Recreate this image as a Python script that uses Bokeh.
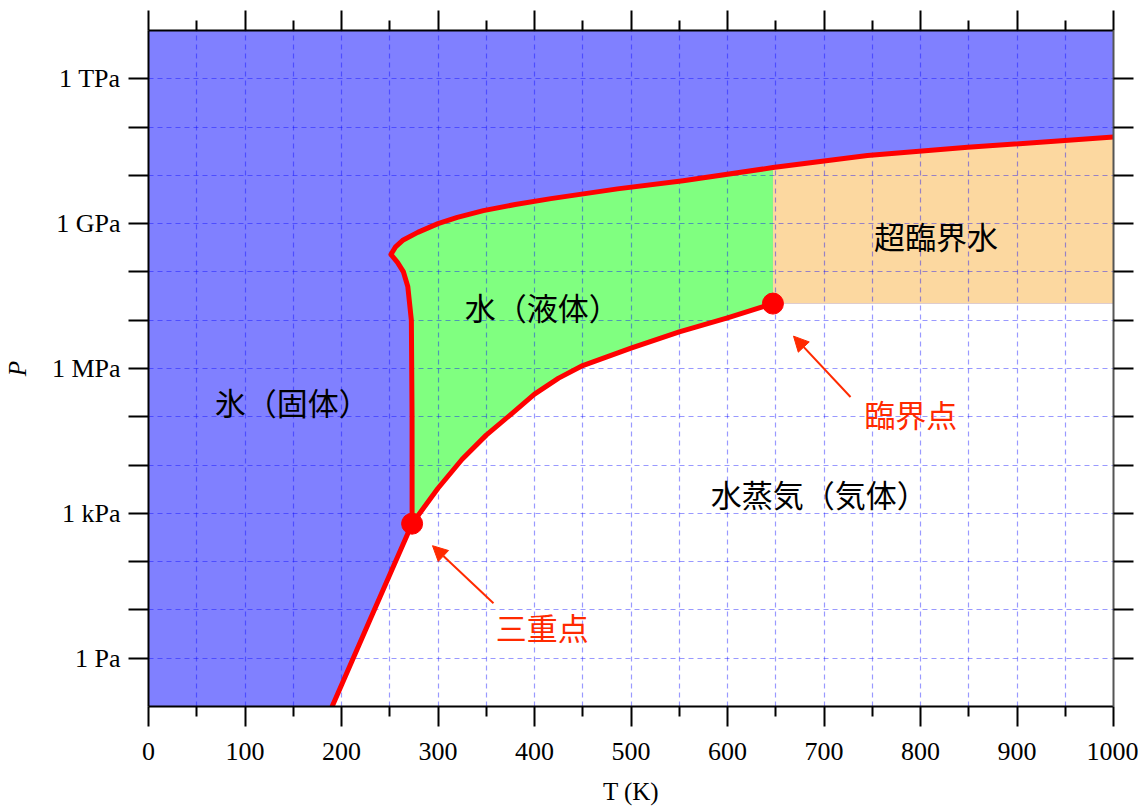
import numpy as np
from bokeh.plotting import figure
from bokeh.models import FixedTicker, LinearAxis, LogAxis, Arrow, NormalHead, Range1d
from bokeh.core.properties import value
from bokeh.embed import file_html
from bokeh.resources import INLINE

# ---------------- data (T in K, P in Pa) ----------------
x_limits = [0, 1000]
y_limits = [0.1, 1e13]

# solid-gas (sublimation) curve
sub_T = [190.3, 230.0, 273.16]
sub_P = [0.1, 6.6, 611.657]

# liquid-gas (vaporisation) curve, triple point -> critical point
vap_T = [273.16, 300, 325, 350, 375, 400, 425, 450, 475, 500, 550, 600, 647.1]
vap_P = [611.657, 3.31e3, 1.32e4, 4.17e4, 1.10e5, 2.95e5, 6.31e5, 1.15e6,
         1.74e6, 2.63e6, 5.75e6, 1.12e7, 2.21e7]

# solid-liquid (melting) curve, triple point -> 1000 K
melt_T = [273.16, 273.1, 272.4, 268.7, 264.2, 258.0, 251.2, 256, 264, 279, 300,
          320, 347, 380, 417, 486, 554, 647.1, 745, 849, 1000]
melt_P = [611.657, 1e5, 1e7, 5.0e7, 1.0e8, 1.58e8, 2.3e8, 3.3e8, 4.6e8, 6.6e8,
          1.0e9, 1.35e9, 1.86e9, 2.5e9, 3.3e9, 5.25e9, 7.76e9, 1.45e10, 2.57e10,
          3.8e10, 6.2e10]

triple_T, triple_P = 273.16, 611.657
crit_T, crit_P = 647.1, 2.21e7

region_labels = ["氷（固体）", "水（液体）", "超臨界水", "水蒸気（気体）"]
region_T = [149, 408, 816, 695]
region_P = [2.04e5, 1.95e7, 5.75e8, 2.57e3]

point_labels = ["三重点", "臨界点"]
point_label_T = [408, 790]
point_label_P = [4.6, 1.15e5]
arrow_start_T = [357.5, 727.5]
arrow_start_P = [13.7, 2.57e5]
arrow_end_T = [294.3, 668.4]
arrow_end_P = [214.0, 4.68e6]

x_major = [0, 100, 200, 300, 400, 500, 600, 700, 800, 900, 1000]
x_minor = [50, 150, 250, 350, 450, 550, 650, 750, 850, 950]
x_grid = sorted(x_major + x_minor)
y_ticks = [1, 1e1, 1e2, 1e3, 1e4, 1e5, 1e6, 1e7, 1e8, 1e9, 1e10, 1e11, 1e12]
y_tick_labels = ["1 Pa", "", "", "1 kPa", "", "", "1 MPa", "", "", "1 GPa", "", "", "1 TPa"]

# ---------------- colours ----------------
SOLID = "#8080FF"
LIQUID = "#80FF80"
SUPER = "#FCD8A0"
RED = "#FF0000"
NOTE = "#FF2A00"
SERIF = "Liberation Serif"
CJK = "Noto Sans CJK JP"

p = figure(x_range=Range1d(*x_limits), y_range=Range1d(*y_limits), y_axis_type="log",
           frame_width=965, frame_height=676,
           min_border_left=140, min_border_right=25, min_border_top=30, min_border_bottom=100,
           output_backend="svg", toolbar_location=None,
           background_fill_color=SOLID, border_fill_color="white")
p.outline_line_color = None

# ---------------- regions ----------------
gas_x = list(sub_T) + list(vap_T[1:]) + [x_limits[1], x_limits[1]]
gas_y = list(sub_P) + list(vap_P[1:]) + [crit_P, y_limits[0]]
p.patch(gas_x, gas_y, fill_color="white", line_color=None, level="image")

liq_x = [t for t in melt_T if t <= crit_T] + list(vap_T[::-1])
liq_y = [pp for t, pp in zip(melt_T, melt_P) if t <= crit_T] + list(vap_P[::-1])
p.patch(liq_x, liq_y, fill_color=LIQUID, line_color=None, level="image")

sc_x = [crit_T] + [t for t in melt_T if t >= crit_T] + [x_limits[1]]
sc_y = [crit_P] + [pp for t, pp in zip(melt_T, melt_P) if t >= crit_T] + [crit_P]
p.patch(sc_x, sc_y, fill_color=SUPER, line_color=None, level="image")

# ---------------- grid ----------------
p.xgrid.ticker = FixedTicker(ticks=x_grid)
p.ygrid.ticker = FixedTicker(ticks=y_ticks)
for g in (p.xgrid, p.ygrid):
    g.grid_line_color = "#0000FF"
    g.grid_line_alpha = 0.4
    g.grid_line_width = 1.2
    g.grid_line_dash = "5 4"

# ---------------- curves ----------------
for xs, ys in ((sub_T, sub_P), (vap_T, vap_P), (melt_T, melt_P)):
    p.line(xs, ys, line_color=RED, line_width=5, line_join="round", line_cap="round")
p.scatter([triple_T, crit_T], [triple_P, crit_P], size=21, fill_color=RED, line_color=RED)

# ---------------- labels ----------------
p.text(region_T, region_P, text=region_labels, text_font=value(CJK), text_font_size="31px",
       text_color="black", text_align="center", text_baseline="middle")
p.text(point_label_T, point_label_P, text=point_labels, text_font=value(CJK),
       text_font_size="31px", text_color=NOTE, text_align="center", text_baseline="middle")
for xs, ys, xe, ye in zip(arrow_start_T, arrow_start_P, arrow_end_T, arrow_end_P):
    p.add_layout(Arrow(x_start=xs, y_start=ys, x_end=xe, y_end=ye,
                       line_color=NOTE, line_width=2,
                       end=NormalHead(size=15, fill_color=NOTE, line_color=NOTE)))

# ---------------- axes ----------------
def style_axis(ax, labels=True):
    ax.axis_line_color = "black"
    ax.axis_line_width = 2
    ax.major_tick_line_color = "black"
    ax.major_tick_line_width = 2
    ax.major_tick_in = 0
    ax.major_tick_out = 20
    ax.minor_tick_line_color = "black"
    ax.minor_tick_line_width = 2
    ax.minor_tick_in = 0
    ax.minor_tick_out = 10
    ax.major_label_text_font = SERIF
    if labels:
        ax.major_label_text_font_size = "26px"
        ax.major_label_text_color = "black"
    else:
        ax.major_label_text_font_size = "1px"
        ax.major_label_text_color = None
        ax.major_label_standoff = 0

xb = p.xaxis[0]
xb.ticker = FixedTicker(ticks=x_major, minor_ticks=x_minor)
style_axis(xb)
xb.major_label_standoff = 16
xb.axis_label = "T (K)"
xb.axis_label_text_font = SERIF
xb.axis_label_text_font_size = "25px"
xb.axis_label_text_font_style = "normal"
xb.axis_label_text_color = "black"
xb.axis_label_standoff = 15

yl = p.yaxis[0]
yl.ticker = FixedTicker(ticks=y_ticks)
style_axis(yl)
yl.minor_tick_line_color = None
yl.major_label_standoff = 8
yl.major_label_overrides = dict(zip(y_ticks, y_tick_labels))
yl.axis_label = "P"
yl.axis_label_text_font = SERIF
yl.axis_label_text_font_size = "25px"
yl.axis_label_text_font_style = "italic"
yl.axis_label_text_color = "black"
yl.axis_label_standoff = 18

xt = LinearAxis(ticker=FixedTicker(ticks=x_major, minor_ticks=x_minor))
style_axis(xt, labels=False)
p.add_layout(xt, "above")

yr = LogAxis(ticker=FixedTicker(ticks=y_ticks))
style_axis(yr, labels=False)
yr.minor_tick_line_color = None
yr.axis_line_color = "#555555"
p.add_layout(yr, "right")

open("out.html", "w").write(file_html(p, INLINE))
